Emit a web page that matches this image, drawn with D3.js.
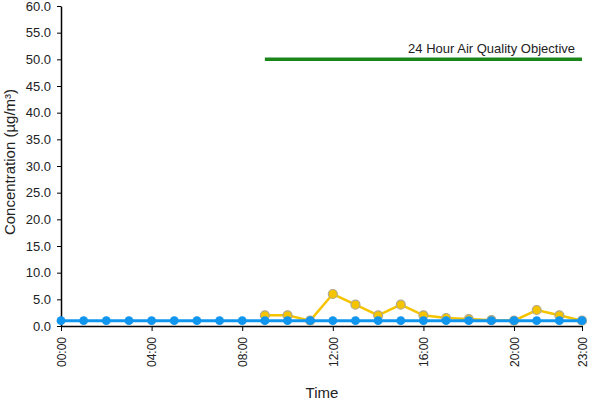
<!DOCTYPE html>
<html><head><meta charset="utf-8">
<script src="https://cdn.jsdelivr.net/npm/d3@7"></script>
<style>body{margin:0;background:#fff}svg{display:block}text{font-family:"Liberation Sans",Arial,sans-serif;fill:#222}</style>
</head><body><svg id="c" width="600" height="400"></svg>
<script>
const hours = d3.range(0, 24);
const tickHours = [0, 4, 8, 12, 16, 20, 23];
const yTicks = [0, 5, 10, 15, 20, 25, 30, 35, 40, 45, 50, 55, 60];
const blueValues = [1,1,1,1,1,1,1,1,1,1,1,1,1,1,1,1,1,1,1,1,1,1,1,1];
const yellowHours = [9,10,11,12,13,14,15,16,17,18,19,20,21,22,23];
const yellowValues = [2.0,2.0,1.0,6.0,4.0,2.0,4.0,2.0,1.5,1.3,1.1,1.0,3.0,2.0,1.0];
const objectiveValue = 50;
const objectiveHours = [9, 23];
const objectiveLabel = "24 Hour Air Quality Objective";

const svg = d3.select("#c");
const x = d3.scaleLinear().domain([0, 23]).range([61, 582]);
const y = d3.scaleLinear().domain([0, 60]).range([326, 6]);
const pad = h => String(h).padStart(2, "0") + ":00";

// axes
const ya = svg.append("g").attr("transform", "translate(61,0)")
  .call(d3.axisLeft(y).tickValues(yTicks).tickSize(4).tickSizeOuter(0).tickFormat(d3.format(".1f")));
ya.select(".domain").attr("stroke", "#000").attr("stroke-width", 1.5);
ya.selectAll(".tick line").attr("stroke", "#000");
ya.selectAll(".tick text").attr("font-size", 13).attr("x", -10).style("fill", "#222");

const xa = svg.append("g").attr("transform", "translate(0,326)")
  .call(d3.axisBottom(x).tickValues(tickHours).tickSize(5).tickSizeOuter(0).tickFormat(pad));
xa.select(".domain").attr("stroke", "#000").attr("stroke-width", 1.5);
xa.selectAll(".tick line").attr("stroke", "#000");
xa.selectAll(".tick text").attr("font-size", 12).attr("transform", "rotate(-90)")
  .attr("text-anchor", "end").attr("x", -11).attr("y", 0).attr("dy", "0.35em").style("fill", "#222");

svg.append("text").attr("x", 322).attr("y", 398).attr("text-anchor", "middle").attr("font-size", 15).text("Time");
svg.append("text").attr("transform", "translate(15,162) rotate(-90)").attr("text-anchor", "middle")
  .attr("font-size", 15).text("Concentration (µg/m³)");

// objective
svg.append("line").attr("x1", x(objectiveHours[0])).attr("x2", x(objectiveHours[1]))
  .attr("y1", y(objectiveValue)).attr("y2", y(objectiveValue))
  .attr("stroke", "#1a861a").attr("stroke-width", 3.5);
svg.append("text").attr("x", x(objectiveHours[1]) - 7).attr("y", y(objectiveValue) - 6)
  .attr("text-anchor", "end").attr("font-size", 13).text(objectiveLabel);

// yellow series
const yData = yellowHours.map((h, i) => [h, yellowValues[i]]);
const line = d3.line().x(d => x(d[0])).y(d => y(d[1]));
svg.append("path").datum(yData).attr("d", line).attr("fill", "none")
  .attr("stroke", "#f5c400").attr("stroke-width", 2.5);
svg.selectAll(".yd").data(yData).join("circle").attr("cx", d => x(d[0])).attr("cy", d => y(d[1]))
  .attr("r", 4.5).attr("fill", "#f5c400").attr("stroke", "#b0a890").attr("stroke-width", 1.2);

// blue series
const bData = hours.map((h, i) => [h, blueValues[i]]);
svg.append("path").datum(bData).attr("d", line).attr("fill", "none")
  .attr("stroke", "#1196f0").attr("stroke-width", 3);
svg.selectAll(".bd").data(bData).join("circle").attr("cx", d => x(d[0])).attr("cy", d => y(d[1]))
  .attr("r", 4.4).attr("fill", "#1196f0");
</script></body></html>
